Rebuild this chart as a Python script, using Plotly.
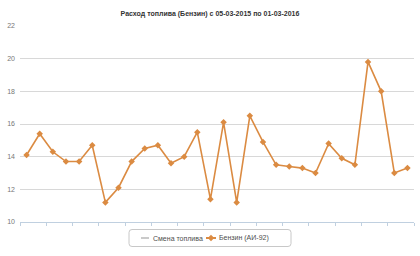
import plotly.graph_objects as go

# Categories (refuel events; labels hidden in the reference)
categories = [str(i) for i in range(1, 31)]

# Fuel consumption, l/100km (Бензин АИ-92)
petrol_ai92 = [14.1, 15.4, 14.3, 13.7, 13.7, 14.7, 11.2, 12.1, 13.7, 14.5,
               14.7, 13.6, 14.0, 15.5, 11.4, 16.1, 11.2, 16.5, 14.9, 13.5,
               13.4, 13.3, 13.0, 14.8, 13.9, 13.5, 19.8, 18.0, 13.0, 13.3]

# "Смена топлива" series has no points in this period
fuel_change = [None]

series_names = ["Смена топлива", "Бензин (АИ-92)"]
series_colors = ["#B8B8B8", "#DB8B42"]

y_ticks = [10, 12, 14, 16, 18, 20, 22]

title_text = "Расход топлива (Бензин) с 05-03-2015 по 01-03-2016"

# ---- layout geometry (pixels) ----
W, H = 420, 256
ML, MR, MT, MB = 20, 6, 26, 34
PW, PH = W - ML - MR, H - MT - MB


def px(x):
    return (x - ML) / PW


def py(y):
    return (H - MB - y) / PH


fig = go.Figure()
fig.add_trace(go.Scatter(
    x=categories[:len(fuel_change)], y=fuel_change, name=series_names[0],
    mode="lines", line=dict(color=series_colors[0], width=1.5), showlegend=False,
))
fig.add_trace(go.Scatter(
    x=categories, y=petrol_ai92, name=series_names[1],
    mode="lines+markers",
    line=dict(color=series_colors[1], width=1.6),
    marker=dict(symbol="diamond", size=5, color=series_colors[1]),
    showlegend=False,
))

# ---- compact legend (Highcharts style) ----
bx0, bx1, by0, by1, r = 129, 291, 229.5, 246.5, 3
yc = (by0 + by1) / 2
box_path = (
    f"M {px(bx0 + r)},{py(by0)} L {px(bx1 - r)},{py(by0)} "
    f"Q {px(bx1)},{py(by0)} {px(bx1)},{py(by0 + r)} "
    f"L {px(bx1)},{py(by1 - r)} Q {px(bx1)},{py(by1)} {px(bx1 - r)},{py(by1)} "
    f"L {px(bx0 + r)},{py(by1)} Q {px(bx0)},{py(by1)} {px(bx0)},{py(by1 - r)} "
    f"L {px(bx0)},{py(by0 + r)} Q {px(bx0)},{py(by0)} {px(bx0 + r)},{py(by0)} Z"
)
shapes = [
    dict(type="path", xref="paper", yref="paper", path=box_path,
         line=dict(color="#C8C8C8", width=1), fillcolor="rgba(0,0,0,0)"),
    dict(type="line", xref="paper", yref="paper",
         x0=px(141), x1=px(149), y0=py(yc), y1=py(yc),
         line=dict(color=series_colors[0], width=1.5)),
    dict(type="line", xref="paper", yref="paper",
         x0=px(206), x1=px(216), y0=py(yc), y1=py(yc),
         line=dict(color=series_colors[1], width=2)),
    dict(type="path", xref="paper", yref="paper",
         path=(f"M {px(211)},{py(yc - 3.2)} L {px(214.2)},{py(yc)} "
               f"L {px(211)},{py(yc + 3.2)} L {px(207.8)},{py(yc)} Z"),
         line=dict(color=series_colors[1], width=0), fillcolor=series_colors[1]),
]
annotations = [
    dict(xref="paper", yref="paper", x=px(150.5), y=py(yc), text=series_names[0],
         xanchor="left", yanchor="middle", showarrow=False,
         font=dict(size=7, color="#4D4D4D")),
    dict(xref="paper", yref="paper", x=px(216.5), y=py(yc), text=series_names[1],
         xanchor="left", yanchor="middle", showarrow=False,
         font=dict(size=7, color="#4D4D4D")),
]

fig.update_layout(
    width=W, height=H,
    margin=dict(l=ML, r=MR, t=MT, b=MB),
    paper_bgcolor="white", plot_bgcolor="white",
    font=dict(family="Liberation Sans, Arial, sans-serif", size=8, color="#666666"),
    title=dict(text="<b>" + title_text + "</b>", x=0.5, xanchor="center",
               y=1 - 14 / H, yanchor="middle",
               font=dict(size=7, color="#333333")),
    showlegend=False,
    shapes=shapes,
    annotations=annotations,
    xaxis=dict(type="category", range=[-0.5, len(categories) - 0.5],
               showgrid=False, showticklabels=False,
               ticks="outside", ticklen=3, tickcolor="#C0D0E0", tickson="boundaries",
               showline=True, linecolor="#C0D0E0", linewidth=1, zeroline=False,
               fixedrange=True),
    yaxis=dict(range=[10, 22], tickvals=y_ticks, showgrid=True, gridcolor="#D8D8D8",
               gridwidth=1, zeroline=False, showline=False, ticks="",
               tickfont=dict(size=7, color="#777777"), ticklabelstandoff=4,
               fixedrange=True),
)

fig.write_html("out.html")
